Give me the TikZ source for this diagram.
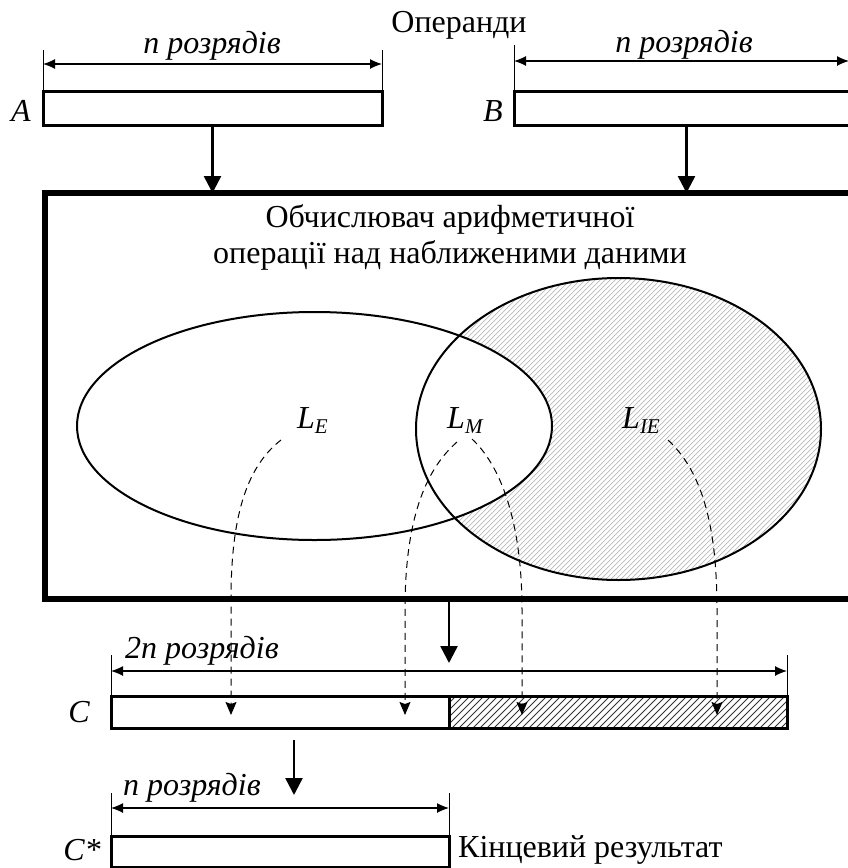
\documentclass[tikz,border=0pt]{standalone}
\usepackage{fontspec}
\setmainfont{Liberation Serif}
\usetikzlibrary{arrows.meta,shapes.geometric}
\newcommand{\Lsub}[1]{\textit{L}\raisebox{-5pt}{\fontsize{21}{21}\selectfont\textit{#1}}}
\begin{document}
\begin{tikzpicture}[x=1pt,y=-1pt,
  reg/.style={draw, line width=3pt, inner sep=0pt, outer sep=0pt, anchor=north west},
  txt/.style={font=\fontsize{32}{36}\selectfont, inner sep=0pt, anchor=base},
  itxt/.style={font=\fontsize{32}{36}\selectfont\itshape, inner sep=0pt, anchor=base},
  dimline/.style={line width=1.2pt, {Latex[length=12pt,width=10pt]}-{Latex[length=12pt,width=10pt]}},
  extline/.style={line width=1pt},
  flow/.style={line width=2.5pt, -{Triangle[length=17pt,width=17pt]}},
  dashflow/.style={line width=1pt, dash pattern=on 7pt off 5pt, -{Stealth[length=13pt,width=11pt,inset=2pt]}},
  venn/.style={draw, ellipse, line width=2pt, inner sep=0pt, outer sep=0pt},
]
\useasboundingbox (0,0) rectangle (848,868);

% ---------- operands ----------
\node[txt] (ops) at (459,32) {Операнди};

\node[reg, minimum width=339pt, minimum height=34pt] (A) at (43,91) {};
\node[reg, minimum width=345pt, minimum height=34pt] (B) at (514,91) {};
\node[itxt] (lA) at (21,121) {A};
\node[itxt] (lB) at (493,121) {B};

\coordinate (ae1) at (43,50);  \coordinate (ae2) at (382,50);
\coordinate (ad1) at (43,64);  \coordinate (ad2) at (382,64);
\draw[extline] (A.north west) -- (ae1);
\draw[extline] (A.north east) -- (ae2);
\draw[dimline] (ad1) -- (ad2);
\node[itxt] (nA) at (212,53) {n розрядів};

\coordinate (be1) at (514,45);
\coordinate (bd1) at (514,61);  \coordinate (bd2) at (849,61);
\draw[extline] (B.north west) -- (be1);
\draw[dimline] (bd1) -- (bd2);
\node[itxt] (nB) at (684,52) {n розрядів};

% ---------- calculator ----------
\node[draw, line width=6pt, inner sep=0pt, outer sep=0pt, anchor=north west,
      minimum width=820pt, minimum height=406pt] (big) at (45,193) {};
\draw[flow] (A.south) -- (A.south |- big.north);
\draw[flow] (B.south) -- (B.south |- big.north);

\node[txt] (t1) at (450,227) {Обчислювач арифметичної};
\node[txt] (t2) at (450,263) {операції над наближеними даними};

% hatching of L_IE (right ellipse minus left ellipse)
\begin{scope}
  \clip (618.5,429) ellipse [x radius=202.5pt, y radius=151pt];
  \foreach \k in {90,95,...,835} \draw[gray!55, line width=0.7pt] (\k,590) -- (\k+320,270);
\end{scope}
\fill[white] (314.5,426) ellipse [x radius=237.5pt, y radius=114pt];

\node[venn, minimum width=475pt, minimum height=228pt] (EL) at (314.5,426) {};
\node[venn, minimum width=405pt, minimum height=302pt] (ER) at (618.5,429) {};

\node[anchor=base west, inner sep=0pt, font=\fontsize{32}{36}\selectfont] (LE) at (297,428) {\Lsub{E}};
\node[anchor=base west, inner sep=0pt, font=\fontsize{32}{36}\selectfont] (LM) at (447,428) {\Lsub{M}};
\node[anchor=base west, inner sep=0pt, font=\fontsize{32}{36}\selectfont] (LIE) at (622,428) {\Lsub{IE}};

% ---------- result register C ----------
\node[reg, minimum width=338pt, minimum height=32pt] (C1) at (111,696) {};
\node[reg, minimum width=338pt, minimum height=32pt] (C2) at (449,696) {};
\begin{scope}
  \clip (C2.north west) rectangle (C2.south east);
  \foreach \k in {410,417,...,795} \draw[line width=0.8pt, black!80] (\k,728) -- (\k+32,696);
\end{scope}
\draw[line width=3pt] (C2.north west) rectangle (C2.south east);
\node[itxt] (lC) at (79,722) {C};

\coordinate (bo) at (449,663);
\draw[flow] (C2.north west |- big.south) -- (bo);

\coordinate (ce1) at (111,655);  \coordinate (ce2) at (787,655);
\coordinate (cd1) at (111,671);  \coordinate (cd2) at (787,671);
\draw[extline] (C1.north west) -- (ce1);
\draw[extline] (C2.north east) -- (ce2);
\draw[dimline] (cd1) -- (cd2);
\node[itxt, anchor=base west] (n2) at (125,658) {2n розрядів};

% dashed mapping arrows
\coordinate (s1) at (281,440);  \coordinate (e1) at (231,715);
\coordinate (s2) at (457,442);  \coordinate (e2) at (405,715);
\coordinate (s3) at (472,439);  \coordinate (e3) at (522,715);
\coordinate (s4) at (668,440);  \coordinate (e4) at (717,715);
\draw[dashflow] (s1) .. controls (245,468) and (231,520) .. (231,600) -- (e1);
\draw[dashflow] (s2) .. controls (425,470) and (405,520) .. (405,610) -- (e2);
\draw[dashflow] (s3) .. controls (500,465) and (522,520) .. (522,610) -- (e3);
\draw[dashflow] (s4) .. controls (700,470) and (717,520) .. (717,610) -- (e4);

% ---------- final result C* ----------
\coordinate (cc1) at (294,740);  \coordinate (cc2) at (294,795);
\draw[flow] (cc1) -- (cc2);

\node[reg, minimum width=338pt, minimum height=31pt] (Cs) at (111,836) {};
\node[itxt] (lCs) at (82,860) {C*};
\node[txt, anchor=base west] (res) at (458,857) {Кінцевий результат};

\coordinate (se1) at (111,793);  \coordinate (se2) at (449,793);
\coordinate (sd1) at (111,808);  \coordinate (sd2) at (449,808);
\draw[extline] (Cs.north west) -- (se1);
\draw[extline] (Cs.north east) -- (se2);
\draw[dimline] (sd1) -- (sd2);
\node[itxt, anchor=base west] (n1) at (123,795) {n розрядів};
\end{tikzpicture}
\end{document}
